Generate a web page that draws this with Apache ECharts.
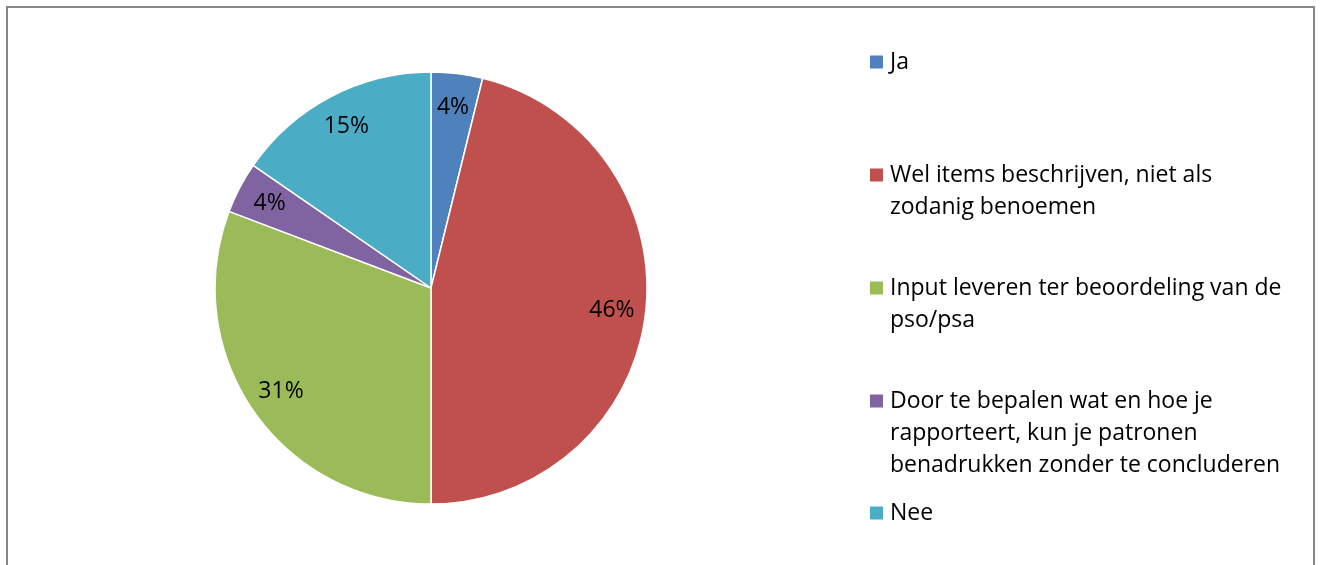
<!DOCTYPE html>
<html>
<head>
<meta charset="utf-8">
<script src="https://cdn.jsdelivr.net/npm/echarts@6/dist/echarts.min.js"></script>
<style>
  html, body { margin: 0; padding: 0; background: #fff; }
  #chart { width: 1322px; height: 565px; }
</style>
</head>
<body>
<div id="chart"></div>
<script>
// Answer categories and the number of responses for each
const categories = [
  'Ja',
  'Wel items beschrijven, niet als zodanig benoemen',
  'Input leveren ter beoordeling van de pso/psa',
  'Door te bepalen wat en hoe je rapporteert, kun je patronen benadrukken zonder te concluderen',
  'Nee'
];
const counts = [1, 12, 8, 1, 4];

// Legend text, broken into lines
const legendLines = [
  ['Ja'],
  ['Wel items beschrijven, niet als', 'zodanig benoemen'],
  ['Input leveren ter beoordeling van de', 'pso/psa'],
  ['Door te bepalen wat en hoe je', 'rapporteert, kun je patronen', 'benadrukken zonder te concluderen'],
  ['Nee']
];

const colors = ['#4F81BD', '#C0504D', '#9BBB59', '#8064A2', '#4BACC6'];

const FONT = 'Open Sans';
const FONT_SIZE = 23;
const LINE_H = 32;
const CENTER = [431, 288];
const RADIUS = 216;
// vertical centre of the first line of each legend entry
const legendRowY = [62, 175, 288, 401, 513];

const pieData = categories.map((name, i) => ({ name, value: counts[i] }));

// one legend block per entry; leading blank lines keep the swatch level with the first text line
const legends = categories.map((name, i) => {
  const n = legendLines[i].length;
  return {
    data: [name],
    orient: 'vertical',
    left: 870,
    top: legendRowY[i] - (2 * n - 1) * LINE_H / 2,
    padding: 0,
    icon: 'rect',
    itemWidth: 13,
    itemHeight: 13,
    itemStyle: { borderWidth: 0 },
    selectedMode: false,
    formatter: () => '\n'.repeat(n - 1) + legendLines[i].map(s => '{g|}' + s).join('\n'),
    textStyle: {
      fontFamily: FONT,
      fontSize: FONT_SIZE,
      color: '#000',
      lineHeight: LINE_H,
      rich: { g: { width: 2, lineHeight: LINE_H } }
    }
  };
});

const chart = echarts.init(document.getElementById('chart'), null, { renderer: 'canvas' });
chart.setOption({
  animation: false,
  color: colors,
  legend: legends,
  graphic: [{
    type: 'rect',
    z: -10,
    silent: true,
    shape: { x: 7, y: 7, width: 1307, height: 600 },
    style: { fill: 'none', stroke: '#878787', lineWidth: 2 }
  }],
  series: [
    {
      // the slices
      type: 'pie',
      center: CENTER,
      radius: RADIUS,
      startAngle: 90,
      clockwise: true,
      avoidLabelOverlap: false,
      silent: true,
      data: pieData,
      label: { show: false },
      labelLine: { show: false },
      itemStyle: { borderColor: '#fff', borderWidth: 1.5 },
      emphasis: { disabled: true }
    },
    {
      // percentage labels, placed in the outer band of each slice
      type: 'pie',
      center: CENTER,
      radius: [RADIUS * 0.66, RADIUS],
      startAngle: 90,
      clockwise: true,
      avoidLabelOverlap: false,
      silent: true,
      z: 3,
      data: pieData,
      itemStyle: { color: 'rgba(0,0,0,0)', borderWidth: 0 },
      label: {
        show: true,
        position: 'inside',
        formatter: p => Math.round(p.percent) + '%',
        fontFamily: FONT,
        fontSize: FONT_SIZE,
        color: '#000'
      },
      labelLine: { show: false },
      emphasis: { disabled: true }
    }
  ]
});
</script>
</body>
</html>
